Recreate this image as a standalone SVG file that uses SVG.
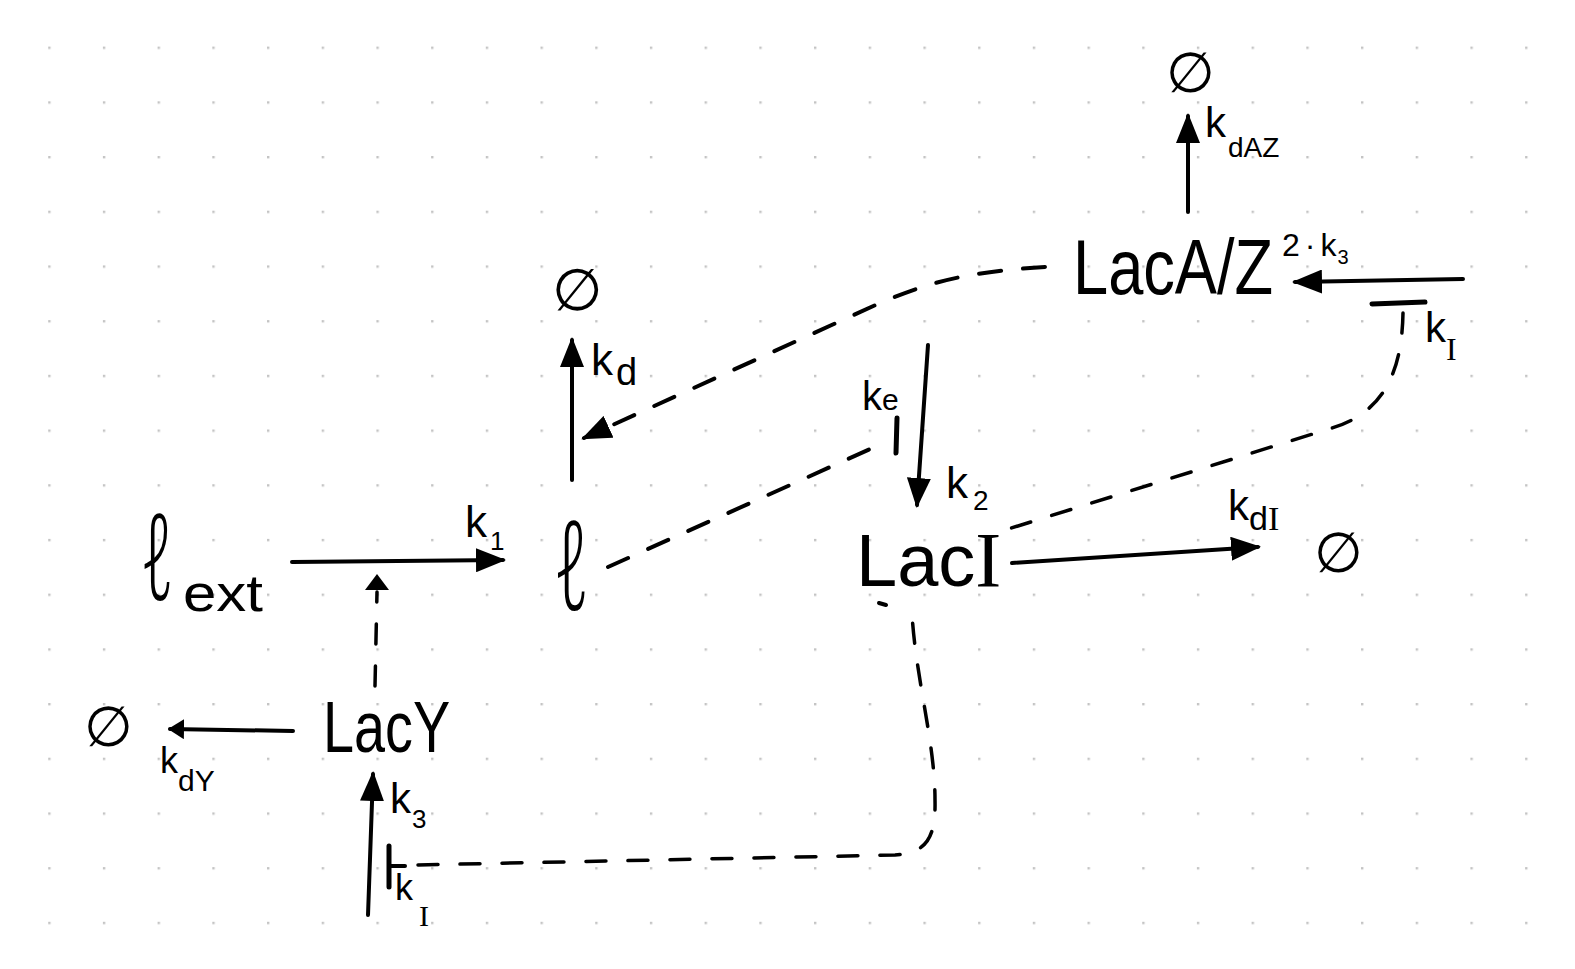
<svg xmlns="http://www.w3.org/2000/svg" width="1575" height="969" viewBox="0 0 1575 969">
<defs>
<pattern id="grid" x="48.2" y="46.6" width="54.7" height="54.7" patternUnits="userSpaceOnUse">
<rect x="0" y="0" width="2.4" height="2.4" fill="#c4c4c4"/>
</pattern>
<marker id="ah" viewBox="0 0 30 24" refX="27" refY="12" markerWidth="30" markerHeight="24" markerUnits="userSpaceOnUse" orient="auto">
<path d="M0,0 L30,12 L0,24 z" fill="#000"/>
</marker>
<marker id="ahs" viewBox="0 0 16 20" refX="14" refY="10" markerWidth="16" markerHeight="20" markerUnits="userSpaceOnUse" orient="auto">
<path d="M0,0 L16,10 L0,20 z" fill="#000"/>
</marker>
<style>
.ln{fill:none;stroke:#000;stroke-width:4;stroke-linecap:round;stroke-linejoin:round}
.ds{fill:none;stroke:#000;stroke-width:4;stroke-linecap:round;stroke-dasharray:22 22}
.ds2{fill:none;stroke:#000;stroke-width:3.5;stroke-linecap:round;stroke-dasharray:20 22}
.bar{fill:none;stroke:#000;stroke-width:5;stroke-linecap:round}
.big{font-family:"Liberation Sans",Arial,sans-serif;fill:#000}
.ell{font-family:"Noto Sans","DejaVu Sans",sans-serif;font-weight:300;fill:#000}
.lab{font-family:"Liberation Sans",Arial,sans-serif;fill:#000}
.ser{font-family:"Liberation Serif","Times New Roman",serif}
.emp{font-family:"DejaVu Sans",sans-serif;fill:#000}
</style>
</defs>
<rect x="0" y="0" width="1575" height="969" fill="#fff"/>
<rect x="0" y="0" width="1575" height="969" fill="url(#grid)"/>

<g id="connectors">
<path class="ln" d="M292,562 L503,560" marker-end="url(#ah)"/>
<path class="ln" d="M572,480 L572,340" marker-end="url(#ah)"/>
<path class="ln" d="M928,345 L917,505" marker-end="url(#ah)"/>
<path class="ln" d="M1012,563 L1258,547" marker-end="url(#ah)"/>
<path class="ln" d="M1463,279 L1295,282" marker-end="url(#ah)"/>
<path class="ln" d="M1188,212 L1188,116" marker-end="url(#ah)"/>
<path class="ln" d="M293,731 L170,729" marker-end="url(#ahs)"/>
<path class="ln" d="M368,915 L373,774" marker-end="url(#ah)"/>
<path class="ds2" d="M375,686 L377,592"/>
<path d="M365,590 L377,574 L389,590 z" fill="#000"/>
<path class="ds" d="M1045,267 C965,272 930,282 880,303 L584,438" marker-end="url(#ah)"/>
<path class="ds" d="M608,567 L888,441"/>
<path class="bar" d="M897,418 L896,453"/>
<path class="ds2" d="M1403,313 C1402,370 1385,412 1332,428 L1005,530"/>
<path class="bar" d="M1372,304 L1425,302"/>
<path class="ds2" d="M418,865 L895,855 C925,853 936,840 935,800 C935,742 916,680 912,614"/>
<path class="bar" d="M389,846 L389,887"/>
<path class="ln" d="M391,866 L405,866"/>
<path class="ln" d="M879,603 L886,605"/>
</g>

<g id="node-lext">
<text class="ell" transform="translate(141,600) scale(0.55,1)" x="0" y="0" font-size="120">ℓ</text>
<text class="big" x="183" y="611" font-size="52" textLength="80" lengthAdjust="spacingAndGlyphs">ext</text>
</g>
<g id="node-l">
<text class="ell" transform="translate(554,610) scale(0.57,1)" x="0" y="0" font-size="124">ℓ</text>
</g>
<g id="node-empty-l">
<text class="emp" x="552" y="310" font-size="58">∅</text>
</g>
<g id="node-LacAZ">
<text class="big" transform="translate(1073,294) scale(0.81,1)" x="0" y="0" font-size="78">LacA/Z</text>
</g>
<g id="node-empty-AZ">
<text class="emp" x="1166" y="92" font-size="56">∅</text>
</g>
<g id="node-LacI">
<text class="big" x="856" y="586" font-size="74">Lac<tspan class="ser" font-size="78">I</tspan></text>
</g>
<g id="node-empty-I">
<text class="emp" x="1314" y="572" font-size="56">∅</text>
</g>
<g id="node-LacY">
<text class="big" transform="translate(323,752) scale(0.775,1)" x="0" y="0" font-size="72">LacY</text>
</g>
<g id="node-empty-Y">
<text class="emp" x="84" y="746" font-size="56">∅</text>
</g>

<g id="labels">
<text class="lab" x="465" y="537" font-size="44">k<tspan font-size="26" dx="3" dy="13">1</tspan></text>
<text class="lab" x="591" y="375" font-size="44">k<tspan font-size="38" dx="3" dy="10">d</tspan></text>
<text class="lab" x="862" y="410" font-size="40">k<tspan font-size="30">e</tspan></text>
<text class="lab" x="946" y="498" font-size="44">k<tspan font-size="28" dx="5" dy="12">2</tspan></text>
<text class="lab" x="1228" y="520" font-size="42">k<tspan font-size="34" dy="10">d</tspan><tspan class="ser" font-size="34">I</tspan></text>
<text class="lab" x="1425" y="342" font-size="42">k<tspan class="ser" font-size="32" dy="18">I</tspan></text>
<text class="lab" x="1282" y="256" font-size="32">2<tspan dx="5">·</tspan><tspan dx="5">k</tspan><tspan font-size="20" dx="1" dy="8">3</tspan></text>
<text class="lab" x="1205" y="137" font-size="42">k<tspan font-size="28" dx="2" dy="20">dAZ</tspan></text>
<text class="lab" x="160" y="773" font-size="36">k<tspan font-size="30" dy="18">dY</tspan></text>
<text class="lab" x="390" y="813" font-size="42">k<tspan font-size="26" dx="1" dy="15">3</tspan></text>
<text class="lab" x="395" y="900" font-size="36">k<tspan class="ser" font-size="30" dx="6" dy="26">I</tspan></text>
</g>
</svg>
